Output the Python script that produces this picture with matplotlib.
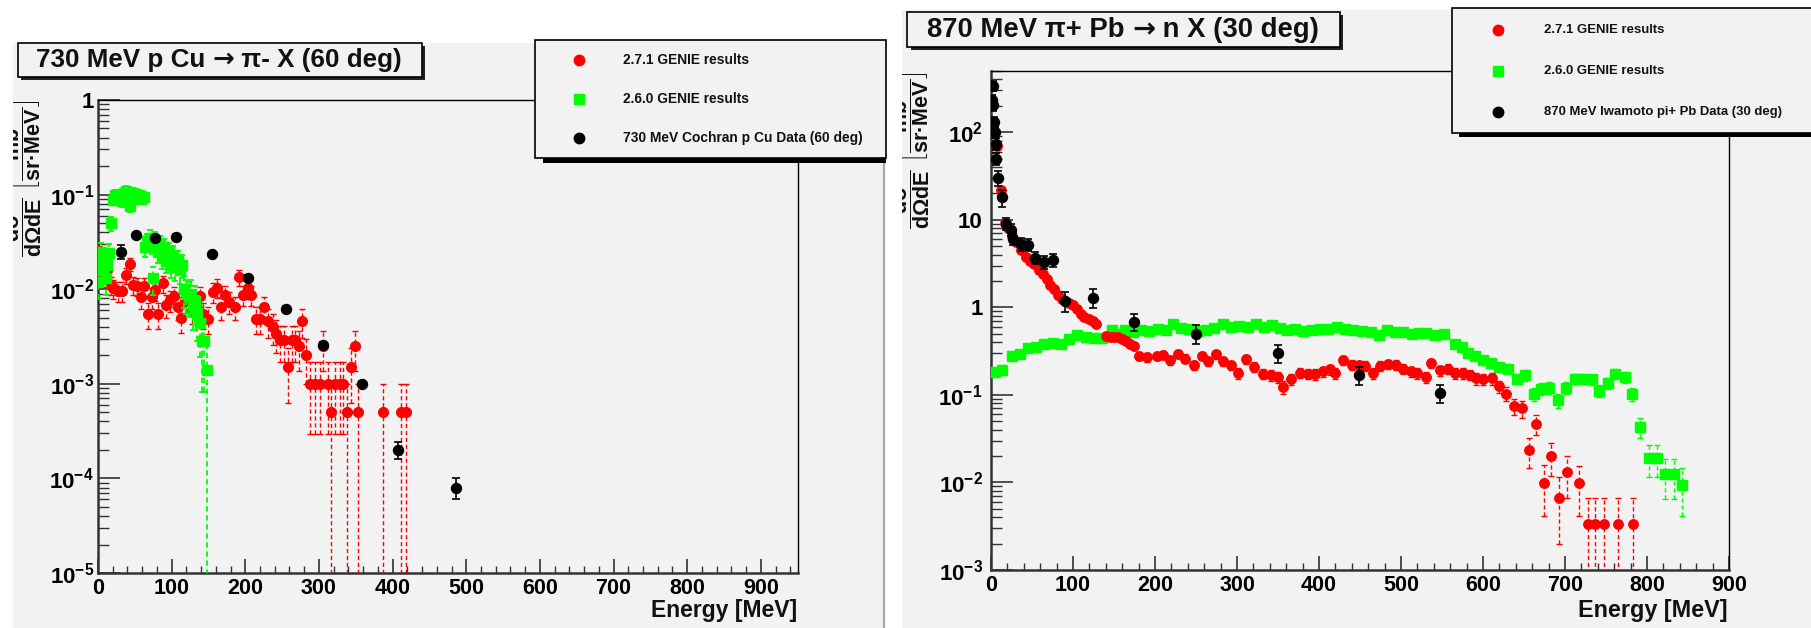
import numpy as np
import matplotlib
matplotlib.use('Agg')
import matplotlib.pyplot as plt
from matplotlib.patches import Rectangle
from matplotlib.lines import Line2D
from matplotlib.ticker import MultipleLocator, LogLocator, NullFormatter, FuncFormatter
from matplotlib.transforms import Bbox, TransformedBbox

# ---------------- data: left panel (730 MeV p Cu -> pi- X, 60 deg) ----------------
redL_E = [2, 7, 12, 17, 21, 27, 33, 38, 43, 48, 53, 58, 63, 68, 73, 78, 82, 88, 93, 98,
          103, 108, 113, 118, 123, 128, 133, 138, 143, 150, 156, 162, 167, 172, 178, 186, 192, 197, 203, 208,
          214, 220, 226, 231, 237, 242, 247, 252, 258, 263, 268, 273, 277, 282, 288, 295, 302, 306, 312, 317,
          322, 328, 333, 338, 343, 349, 353, 387, 412, 418]
redL_v = [0.025, 0.013, 0.016, 0.011, 0.0102, 0.0096, 0.0096, 0.014, 0.0185, 0.011,
          0.0108, 0.0082, 0.0108, 0.0055, 0.0082, 0.0098, 0.0055, 0.0115, 0.0068, 0.0077,
          0.0085, 0.0065, 0.005, 0.0075, 0.009, 0.006, 0.007, 0.0085, 0.0055, 0.0049,
          0.0094, 0.0104, 0.0065, 0.0087, 0.0074, 0.0065, 0.0134, 0.0087, 0.0102, 0.0087,
          0.0049, 0.0049, 0.0065, 0.0046, 0.004, 0.0034, 0.0029, 0.0029, 0.0015, 0.0029,
          0.0029, 0.0025, 0.0046, 0.002, 0.001, 0.001, 0.001, 0.0025, 0.001, 0.0005,
          0.001, 0.001, 0.001, 0.0005, 0.0015, 0.0025, 0.0005, 0.0005, 0.0005, 0.0005]
redL_w = 0.0005   # weight of one MC count (error = sqrt(v*w))

greenL_E = [0.5, 2.5, 4.5, 6.5, 8.5, 10.5, 12.5, 14.5,
            18, 20, 23, 26, 29, 32, 35, 38, 41, 44, 47, 50, 53, 56, 59, 62,
            64, 67, 70, 73, 75, 78, 81, 84, 87, 90, 93, 96, 99, 102, 105, 108, 111, 114, 117, 120,
            123, 126, 129, 132, 135, 138, 141, 144, 148]
greenL_v = [0.012, 0.02, 0.025, 0.016, 0.022, 0.013, 0.018, 0.024,
            0.05, 0.088, 0.1, 0.092, 0.1, 0.085, 0.105, 0.11, 0.1, 0.075, 0.105, 0.1, 0.095, 0.1, 0.09, 0.095,
            0.028, 0.032, 0.035, 0.03, 0.013, 0.033, 0.025, 0.03, 0.022, 0.028, 0.02, 0.025, 0.018, 0.023,
            0.017, 0.02, 0.016, 0.018, 0.01, 0.009,
            0.0085, 0.009, 0.0068, 0.0075, 0.0056, 0.0044, 0.0028, 0.0028, 0.0014]
greenL_w = 0.0014

blackL_E = [31, 52, 78, 106, 155, 204, 255, 305, 358, 407, 486]
blackL_v = [0.025, 0.037, 0.035, 0.036, 0.0235, 0.0132, 0.0062, 0.0026, 0.001, 0.0002, 8e-5]
blackL_err = [0.004, 0.002, 0.002, 0.002, 0.0015, 0.0008, 0.0004, 0.00018, 0.00007, 0.00004, 0.00002]

# ---------------- data: right panel (870 MeV pi+ Pb -> n X, 30 deg) ----------------
redR_E = [7, 12, 17, 21, 25, 31, 37, 43, 48, 53, 58, 63, 68, 72, 77, 82, 86, 90, 95, 100,
          105, 110, 114, 119, 124, 128, 140, 145, 150, 155, 160, 165, 170, 174, 180, 190, 202, 210, 218, 228,
          237, 247, 257, 265, 274, 283, 293, 301, 311, 321, 332, 342, 350, 356, 366, 377, 387, 395, 405, 413,
          420, 429, 440, 449, 456, 466, 474, 484, 494, 503, 512, 520, 530, 537, 548, 557, 566, 576, 584, 592,
          600, 611, 620, 628, 638, 648, 656, 665, 675, 683, 693, 703, 717, 728, 737, 747, 765, 783]
redR_v = [70, 22, 9.2, 8.0, 6.6, 5.5, 4.5, 3.74, 3.4, 3.09, 2.7, 2.42, 2.1, 1.82, 1.6, 1.37, 1.25, 1.18, 1.12, 1.07,
          0.95, 0.83, 0.78, 0.74, 0.69, 0.65, 0.47, 0.46, 0.46, 0.46, 0.44, 0.41, 0.38, 0.36, 0.28, 0.27, 0.28, 0.285, 0.25, 0.295,
          0.26, 0.217, 0.28, 0.245, 0.29, 0.245, 0.217, 0.177, 0.255, 0.21, 0.175, 0.168, 0.158, 0.123, 0.152, 0.18, 0.175, 0.172, 0.185, 0.195,
          0.177, 0.25, 0.22, 0.217, 0.216, 0.177, 0.216, 0.226, 0.22, 0.2, 0.185, 0.177, 0.158, 0.23, 0.19, 0.2, 0.177, 0.177, 0.17, 0.154,
          0.152, 0.154, 0.125, 0.103, 0.074, 0.07, 0.0235, 0.047, 0.0099, 0.0199, 0.0067, 0.0133, 0.0098,
          0.00333, 0.00333, 0.00333, 0.00333, 0.00333]
redR_w = 0.00333

greenR_E = [5, 14, 25, 35, 45, 55, 65, 75, 85, 95, 105, 116, 126, 135, 147, 155, 163, 173, 183, 193,
            204, 213, 222, 232, 242, 252, 262, 272, 283, 293, 303, 313, 323, 333, 343, 352, 361, 371, 381, 391,
            401, 411, 422, 432, 442, 452, 463, 473, 483, 493, 503, 514, 522, 530, 542, 552, 566, 574, 582, 590,
            600, 610, 619, 631, 641, 651, 662, 671, 681, 692, 701, 712, 722, 733, 742, 752, 761, 773, 782, 792,
            802, 812, 822, 833, 843]
greenR_v = [0.182, 0.194, 0.275, 0.295, 0.346, 0.35, 0.377, 0.39, 0.377, 0.437, 0.477, 0.46, 0.45, 0.45, 0.555, 0.5, 0.55, 0.52, 0.55, 0.53,
            0.57, 0.55, 0.65, 0.58, 0.57, 0.54, 0.55, 0.58, 0.65, 0.6, 0.605, 0.6, 0.65, 0.6, 0.62, 0.58, 0.55, 0.56, 0.54, 0.55,
            0.57, 0.56, 0.6, 0.57, 0.55, 0.54, 0.52, 0.48, 0.55, 0.52, 0.52, 0.5, 0.51, 0.51, 0.48, 0.5, 0.377, 0.35, 0.3, 0.28,
            0.248, 0.23, 0.208, 0.2, 0.153, 0.168, 0.103, 0.117, 0.12, 0.0865, 0.12, 0.153, 0.153, 0.15, 0.112, 0.135, 0.174, 0.16, 0.103, 0.043,
            0.019, 0.019, 0.0126, 0.0126, 0.0093]
greenR_w = 0.0029

blackR_E = [1.5, 2, 3, 3.5, 4.5, 6, 6.5, 9, 13, 18, 24, 27, 36, 45, 54, 65, 75, 90, 124, 174, 250, 350, 449, 548]
blackR_v = [234, 341, 202, 130, 100, 74, 50, 30, 18, 9.0, 7.7, 6.1, 5.3, 5.2, 3.7, 3.3, 3.5, 1.18, 1.29, 0.68, 0.5, 0.3, 0.17, 0.105]
blackR_err = [30, 45, 28, 18, 14, 11, 8, 6, 4, 1.4, 1.2, 1.0, 0.9, 0.8, 0.6, 0.55, 0.6, 0.3, 0.32, 0.15, 0.12, 0.07, 0.04, 0.025]

# titles as (text, family) pieces: the arrow is taken from DejaVu Sans
titleL = [("730 MeV p Cu ", 'Liberation Sans'), ("\u2192", 'DejaVu Sans'), (" \u03c0- X (60 deg)", 'Liberation Sans')]
titleR = [("870 MeV \u03c0+ Pb ", 'Liberation Sans'), ("\u2192", 'DejaVu Sans'), (" n X (30 deg)", 'Liberation Sans')]
legend_labels_L = ["2.7.1 GENIE results", "2.6.0 GENIE results", "730 MeV Cochran p Cu Data (60 deg)"]
legend_labels_R = ["2.7.1 GENIE results", "2.6.0 GENIE results", "870 MeV Iwamoto pi+ Pb Data (30 deg)"]
xlabel = "Energy [MeV]"
ylabel = '$\\dfrac{d\\sigma}{d\\Omega dE}\\ \\left[\\dfrac{mb}{sr\u00b7MeV}\\right]$'

# ---------------- style ----------------
W, H = 1811, 628
PAD = '#f2f2f2'
plt.rcParams['font.family'] = ['Liberation Sans', 'DejaVu Sans']
plt.rcParams['font.weight'] = 'bold'
plt.rcParams['mathtext.fontset'] = 'custom'
for k in ('rm', 'it', 'bf', 'sf'):
    plt.rcParams['mathtext.' + k] = 'Liberation Sans:bold'
plt.rcParams['mathtext.fallback'] = 'cm'

fig = plt.figure(figsize=(W / 100, H / 100), dpi=100)
fig.patch.set_facecolor('white')
renderer = fig.canvas.get_renderer()


def fx(x):
    return x / W


def fy(y):
    return 1 - y / H


def rect_px(x0, y0, x1, y1, **kw):
    r = Rectangle((fx(x0), fy(y1)), (x1 - x0) / W, (y1 - y0) / H, transform=fig.transFigure, **kw)
    fig.add_artist(r)
    return r


def fit_width(t, target):
    for _ in range(3):
        w = t.get_window_extent(renderer).width
        t.set_fontsize(t.get_fontsize() * target / w)


# pad backgrounds
rect_px(13, 43, 883, 628, fc=PAD, ec='none', zorder=-5)
rect_px(902, 10, 1811, 628, fc=PAD, ec='none', zorder=-5)
fig.add_artist(Line2D([fx(883.5), fx(883.5)], [fy(160), fy(628)], transform=fig.transFigure,
                      color='#a8a8a8', lw=1.6, zorder=-4))

axL = fig.add_axes([fx(98), fy(573), (797.7 - 98) / W, (573 - 100) / H])
axR = fig.add_axes([fx(991), fy(570), (1729 - 991) / W, (570 - 71) / H])


def yfmt(v, pos):
    e = int(round(np.log10(v)))
    if e == 0:
        return '1'
    if e == 1:
        return '10'
    return r'$10^{%d}$' % e


def style(ax, xmax, ymin, ymax, ypad):
    ax.set_facecolor(PAD)
    ax.set_yscale('log')
    ax.set_xlim(0, xmax)
    ax.set_ylim(ymin, ymax)
    ax.xaxis.set_major_locator(MultipleLocator(100))
    ax.xaxis.set_minor_locator(MultipleLocator(20))
    ax.yaxis.set_major_locator(LogLocator(base=10, numticks=20))
    ax.yaxis.set_minor_locator(LogLocator(base=10, subs=np.arange(2, 10), numticks=20))
    ax.yaxis.set_minor_formatter(NullFormatter())
    ax.yaxis.set_major_formatter(FuncFormatter(yfmt))
    ax.tick_params(axis='x', which='major', direction='in', length=10, width=1.2,
                   color='#333333', labelsize=15.5, pad=3.5)
    ax.tick_params(axis='x', which='minor', direction='in', length=5, width=1.0, color='#333333')
    ax.tick_params(axis='y', which='major', direction='in', length=16, width=1.2,
                   color='#333333', labelsize=16, pad=ypad)
    ax.tick_params(axis='y', which='minor', direction='in', length=8, width=1.0, color='#333333')
    ax.tick_params(top=False, right=False)
    for s in ('left', 'bottom'):
        ax.spines[s].set_linewidth(1.8)
        ax.spines[s].set_color('#333333')
    for s in ('top', 'right'):
        ax.spines[s].set_linewidth(1.0)
        ax.spines[s].set_color('black')


style(axL, 950, 1e-5, 1, 3)
style(axR, 900, 1e-3, 500, 6)


def draw(ax, E, v, err, color, marker, ms, ls, lw, cap, z):
    E = np.asarray(E, float)
    v = np.asarray(v, float)
    err = np.asarray(err, float)
    lo = np.minimum(err, v * (1 - 1e-7))
    eb = ax.errorbar(E, v, yerr=[lo, err], fmt=marker, color=color, mfc=color, mec=color, ms=ms,
                     elinewidth=lw, capsize=cap, capthick=lw, zorder=z, clip_on=True)
    for b in eb[2]:
        b.set_linestyle(ls)
    return eb


dash = (0, (3, 2))
# left panel
draw(axL, redL_E, redL_v, np.sqrt(np.asarray(redL_v) * redL_w), 'red', 'o', 7.0, dash, 1.0, 2, 3)
draw(axL, greenL_E, greenL_v, np.sqrt(np.asarray(greenL_v) * greenL_w), '#00ff00', 's', 7.8, dash, 1.3, 2, 4)
draw(axL, blackL_E, blackL_v, blackL_err, 'black', 'o', 7.2, '-', 1.2, 3, 5)
# right panel
draw(axR, greenR_E, greenR_v, np.sqrt(np.asarray(greenR_v) * greenR_w), '#00ff00', 's', 7.8, dash, 1.0, 2, 3)
draw(axR, redR_E, redR_v, np.sqrt(np.asarray(redR_v) * redR_w), 'red', 'o', 6.8, dash, 1.0, 2, 4)
draw(axR, blackR_E, blackR_v, blackR_err, 'black', 'o', 7.2, '-', 1.2, 3, 5)


# title boxes
def title_box(x0, y0, x1, y1, pieces, tx, ty, width):
    rect_px(x0 + 3, y0 + 3, x1 + 3, y1 + 3, fc='#222222', ec='none', zorder=5)
    rect_px(x0, y0, x1, y1, fc=PAD, ec='black', lw=1.2, zorder=6)
    fs = 18.0
    texts = [fig.text(0, fy(ty), s, ha='left', va='baseline', fontsize=fs, fontweight='bold',
                      family=fam, zorder=7, color='#111111') for s, fam in pieces]

    def widths():
        return [t.get_window_extent(renderer).width for t in texts]

    for _ in range(3):
        tot = sum(widths())
        fs = fs * width / tot
        for t in texts:
            t.set_fontsize(fs)
    ws = widths()
    x = tx - sum(ws) / 2.0
    for t, w in zip(texts, ws):
        t.set_x(fx(x))
        x += w


title_box(18, 43, 422, 77, titleL, 219, 67, 366)
title_box(907.5, 11.7, 1340, 46.7, titleR, 1123, 37, 392)


# legends
def legend_box(x0, y0, x1, y1, sx, sy, xclip, mx, tx, rows, labels, width0):
    rect_px(x0 + sx, y0 + sy, min(x1 + sx, xclip), y1 + sy, fc='black', ec='none', zorder=8)
    rect_px(x0, y0, x1, y1, fc=PAD, ec='black', lw=1.2, zorder=9)
    styles = [('o', 'red', 7.5), ('s', '#00ff00', 7.5), ('o', 'black', 7.5)]
    fs = None
    for (mk, col, ms), ry, lab in zip(styles, rows, labels):
        fig.add_artist(Line2D([fx(mx)], [fy(ry)], transform=fig.transFigure, marker=mk, color=col,
                              mfc=col, mec=col, ms=ms, ls='none', zorder=10))
        t = fig.text(fx(tx), fy(ry), lab, ha='left', va='center', fontsize=10, fontweight='bold',
                     zorder=10, color='#111111')
        if fs is None:
            fit_width(t, width0)
            fs = t.get_fontsize()
        else:
            t.set_fontsize(fs)


legend_box(535, 40, 886, 158, 8, 5, 886, 579, 622.7, [60, 99.3, 138.3], legend_labels_L, 125.6)
legend_box(1451.7, 8.3, 1815, 133, 7, 4, 1815, 1497.7, 1544, [30, 71, 111.7], legend_labels_R, 121)

# axis titles
for xr, w in ((797.0, 146), (1727.7, 150)):
    t = fig.text(fx(xr), fy(616.7), xlabel, ha='right', va='baseline', fontsize=15, fontweight='bold',
                 color='#111111')
    fit_width(t, w)

for (xr, ytop, clipx0, clipy0, clipx1) in ((44, 99, 13, 43, 883), (932, 71, 902, 10, 1811)):
    t = fig.text(fx(xr), fy(ytop), ylabel, rotation=90, ha='right', va='top', fontsize=15.5,
                 color='#111111')
    cb = TransformedBbox(Bbox([[fx(clipx0), fy(628)], [fx(clipx1), fy(clipy0)]]), fig.transFigure)
    t.set_clip_box(cb)
    t.set_clip_on(True)

fig.savefig('out.png', dpi=100, facecolor='white')
